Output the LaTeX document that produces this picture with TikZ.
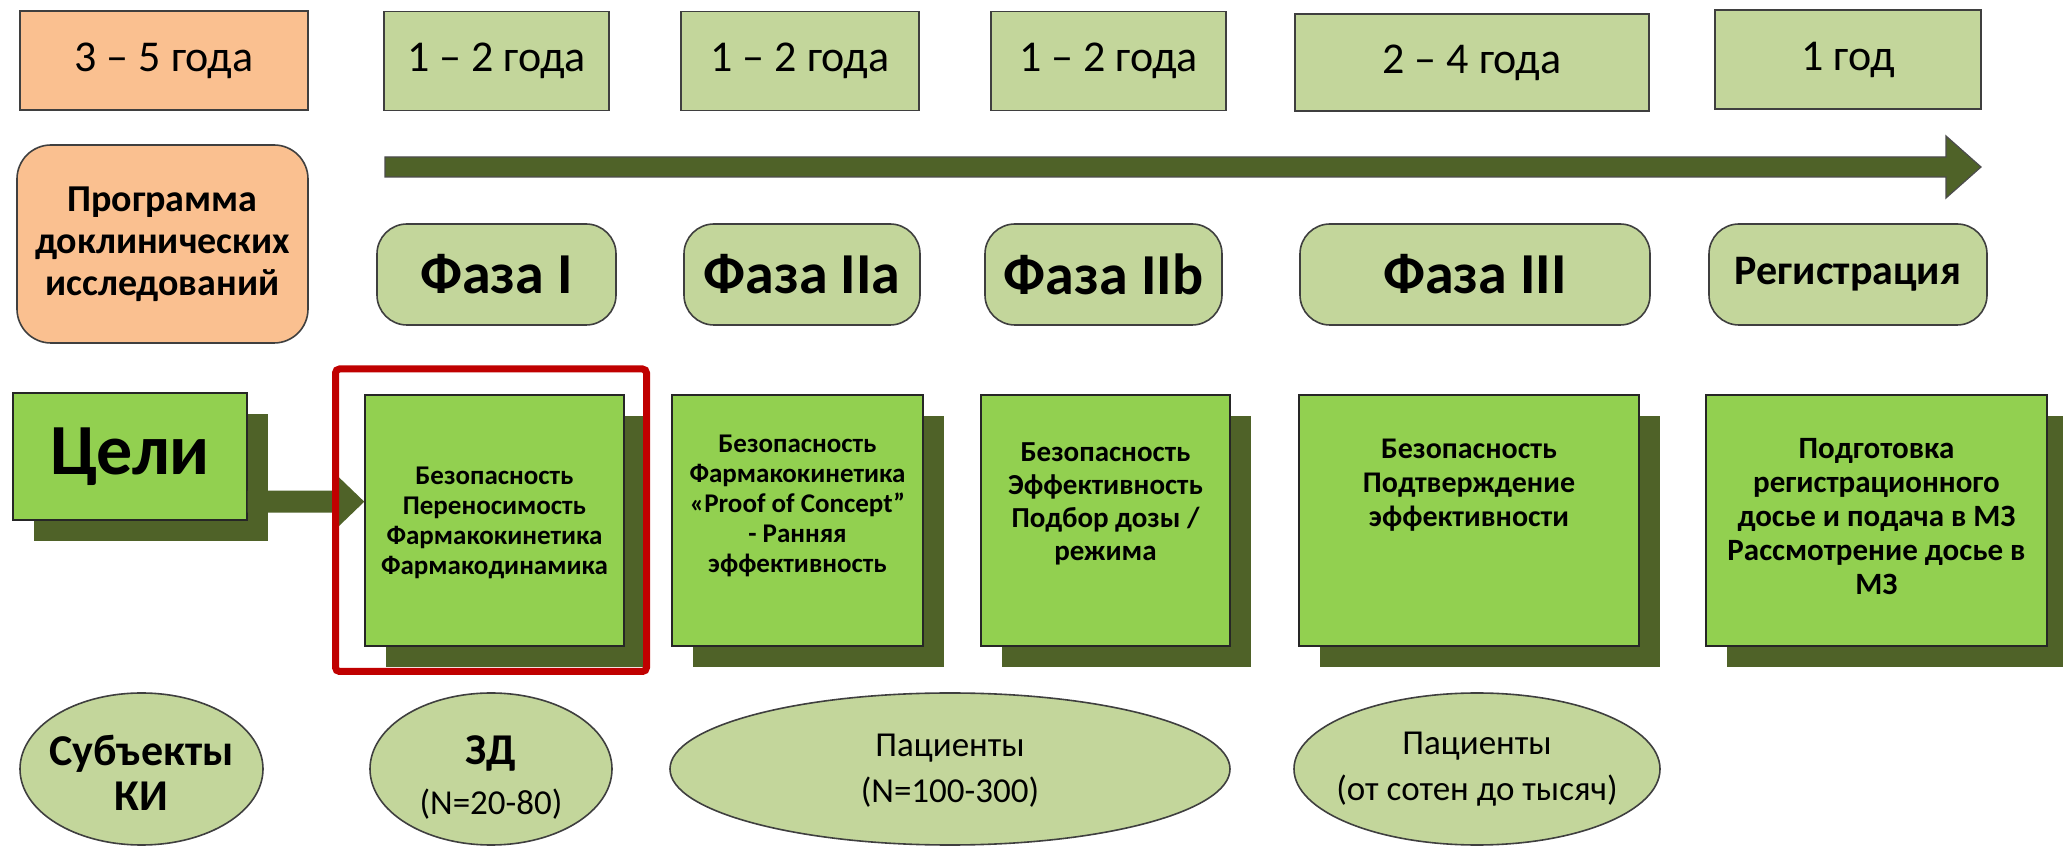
\documentclass[tikz,border=0pt]{standalone}
\usepackage{fontspec}
\setmainfont{Carlito}
\usetikzlibrary{calc,shadows,shapes.geometric}

\definecolor{lgreen}{HTML}{C3D69B}
\definecolor{peach}{HTML}{FAC090}
\definecolor{bgreen}{HTML}{92D050}
\definecolor{olivedark}{HTML}{4F6228}
\definecolor{edgegray}{HTML}{3F3F3F}
\definecolor{selred}{HTML}{C00000}

\newcommand\fsz[2]{\fontsize{#1}{#2}\selectfont}

\tikzset{
  sz/.style 2 args={minimum width=#1*0.5pt, minimum height=#2*0.5pt},
  dur/.style={draw=edgegray, line width=0.8pt, fill=lgreen, inner sep=0pt, font=\fsz{22}{26}},
  prog/.style={draw=edgegray, line width=0.8pt, fill=peach, rounded corners=17pt, inner sep=0pt, align=center, font=\bfseries\fsz{19}{21}},
  pill/.style={draw=edgegray, line width=0.8pt, fill=lgreen, rounded corners=15pt, inner sep=0pt, font=\bfseries\fsz{29}{34}},
  goal/.style={draw=black!85, line width=0.7pt, fill=bgreen, inner sep=0pt,
    drop shadow={shadow xshift=10.5pt, shadow yshift=-10.5pt, fill=olivedark, opacity=1}},
  gtxt/.style={align=center, inner sep=0pt, font=\bfseries\fsz{13.5}{15}},
  oval/.style={ellipse, draw=edgegray, line width=0.8pt, fill=lgreen, inner sep=0pt},
  otxt/.style={align=center, inner sep=0pt, font=\fsz{17.5}{23}},
  tlarrow/.style={fill=olivedark, draw=black!70, line width=0.6pt},
  linkarrow/.style={fill=olivedark},
  selbox/.style={draw=selred, line width=3.5pt, rounded corners=2pt, inner sep=0pt}
}

\begin{document}
\begin{tikzpicture}[x=0.5pt, y=-0.5pt]
\useasboundingbox[fill=white] (0,0) rectangle (2063,849);

% durations
\node[dur, fill=peach, sz={288}{99}] (d0) at (164,60.5) {3 – 5 года};
\node[dur, sz={225}{99}] (d1) at (496.5,61) {1 – 2 года};
\node[dur, sz={238}{99}] (d2) at (800,61) {1 – 2 года};
\node[dur, sz={235}{99}] (d3) at (1108.5,61) {1 – 2 года};
\node[dur, sz={354}{97}] (d4) at (1472,62.5) {2 – 4 года};
\node[dur, sz={266}{99}] (d5) at (1848,59.5) {1 год};

% timeline arrow
\coordinate (ts) at (385,167);
\coordinate (te) at (1981,167);
\draw[tlarrow] ($(ts)+(0,-10)$) -- ($(te)+(-35,-10)$) -- ($(te)+(-35,-31)$) -- (te)
  -- ($(te)+(-35,31)$) -- ($(te)+(-35,10)$) -- ($(ts)+(0,10)$) -- cycle;

% programme + phases
\node[prog, sz={291}{198}] (prog) at (162.5,244) {Программа\\доклинических\\исследований};
\node[pill, sz={239}{101}] (p1) at (496.5,274.5) {Фаза I};
\node[pill, sz={236}{101}] (p2) at (802,274.5) {Фаза IIa};
\node[pill, sz={237}{101}] (p3) at (1103.5,274.5) {Фаза IIb};
\node[pill, sz={350}{101}] (p4) at (1475,274.5) {Фаза III};
\node[pill, sz={278}{101}, font=\bfseries\fsz{21}{25}] (p5) at (1848,274.5) {Регистрация};

% goals
\node[goal, sz={234}{127}, font=\bfseries\fsz{36}{40}] (celi) at (130,456.5) {Цели};
\node[goal, sz={259}{251}] (g1) at (494.5,520.5) {};
\node[goal, sz={251}{251}] (g2) at (797.5,520.5) {};
\node[goal, sz={249}{251}] (g3) at (1105.5,520.5) {};
\node[goal, sz={340}{251}] (g4) at (1469,520.5) {};
\node[goal, sz={341}{251}] (g5) at (1876.5,520.5) {};

\node[gtxt] (g1t) at ($(g1.center)+(0,2)$) {Безопасность\\Переносимость\\Фармакокинетика\\Фармакодинамика};
\node[gtxt] (g2t) at ($(g2.center)+(0,-14.5)$) {Безопасность\\Фармакокинетика\\«Proof of Concept”\\- Ранняя\\эффективность};
\node[gtxt, font=\bfseries\fsz{14.5}{16.5}] (g3t) at ($(g3.center)+(0,-16.5)$) {Безопасность\\Эффективность\\Подбор дозы /\\режима};
\node[gtxt, font=\bfseries\fsz{15}{17}] (g4t) at ($(g4.center)+(0,-35.5)$) {Безопасность\\Подтверждение\\эффективности};
\node[gtxt, font=\bfseries\fsz{15.5}{17}] (g5t) at ($(g5.center)+(0,-3.5)$) {Подготовка\\регистрационного\\досье и подача в МЗ\\Рассмотрение досье в\\МЗ};

% arrow from goals label to phase I goals
\coordinate (a0) at ($(celi.south east)+(0,-19)$);
\coordinate (a1) at (g1.west |- a0);
\fill[linkarrow] ($(a0)+(0,-11)$) -- ($(a1)+(-26,-11)$) -- ($(a1)+(-26,-25)$) -- (a1)
  -- ($(a1)+(-26,25)$) -- ($(a1)+(-26,11)$) -- ($(a0)+(0,11)$) -- cycle;

% selection frame
\node[selbox, sz={311}{302.5}] (sel) at (491,520.25) {};

% subjects
\node[oval, sz={243}{152}] (e0) at (141.5,769) {};
\node[oval, sz={242}{152}] (e1) at (491,769) {};
\node[oval, sz={560}{152}] (e2) at (950,769) {};
\node[oval, sz={366}{152}] (e3) at (1477,769) {};
\node[otxt, font=\bfseries\fsz{22}{22.5}] (e0t) at ($(e0.center)+(0,4)$) {Субъекты\\КИ};
\node[otxt, font=\fsz{17.5}{25}] (e1t) at ($(e1.center)+(0,9)$) {{\bfseries\fsz{22}{25}ЗД}\\(N=20-80)};
\node[otxt] (e2t) at ($(e2.center)+(0,2)$) {Пациенты\\(N=100-300)};
\node[otxt] (e3t) at ($(e3.center)+(0,0)$) {Пациенты\\(от сотен до тысяч)};
\end{tikzpicture}
\end{document}
